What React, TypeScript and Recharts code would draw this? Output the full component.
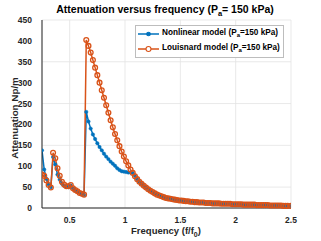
import React from 'react';
import { LineChart, Line, XAxis, YAxis, CartesianGrid, Legend } from 'recharts';

const freq = [
  0.25, 0.27, 0.29, 0.31, 0.33, 0.35, 0.37, 0.39, 0.41, 0.43,
  0.45, 0.47, 0.49, 0.51, 0.53, 0.55, 0.57, 0.59, 0.61, 0.63,
  0.65, 0.67, 0.69, 0.71, 0.73, 0.75, 0.77, 0.79, 0.81, 0.83,
  0.85, 0.87, 0.89, 0.91, 0.93, 0.95, 0.97, 0.99, 1.01, 1.03,
  1.05, 1.07, 1.09, 1.11, 1.13, 1.15, 1.17, 1.19, 1.21, 1.23,
  1.25, 1.27, 1.29, 1.31, 1.33, 1.35, 1.37, 1.39, 1.41, 1.43,
  1.45, 1.47, 1.49, 1.51, 1.53, 1.55, 1.57, 1.59, 1.61, 1.63,
  1.65, 1.67, 1.69, 1.71, 1.73, 1.75, 1.77, 1.79, 1.81, 1.83,
  1.85, 1.87, 1.89, 1.91, 1.93, 1.95, 1.97, 1.99, 2.01, 2.03,
  2.05, 2.07, 2.09, 2.11, 2.13, 2.15, 2.17, 2.19, 2.21, 2.23,
  2.25, 2.27, 2.29, 2.31, 2.33, 2.35, 2.37, 2.39, 2.41, 2.43,
  2.45, 2.47, 2.5,
];

const nonlinear = [
  138, 92, 70, 56, 50, 122, 104, 80, 68, 58,
  53, 51, 50, 54, 47, 42, 39, 36, 33, 31,
  230, 207, 190, 176, 165, 155, 146, 138, 130, 123,
  117, 111, 106, 101, 95, 91, 88, 87, 86, 85,
  85, 84, 77, 69, 63, 58, 53, 49, 45, 41,
  38, 35, 32, 30, 28, 26, 24, 23, 22, 21,
  20, 19, 18, 18, 17, 16, 16, 15, 15, 14,
  14, 13, 13, 13, 12, 12, 12, 11, 11, 11,
  11, 10, 10, 10, 10, 10, 9, 9, 9, 9,
  9, 8, 8, 8, 8, 8, 8, 7, 7, 7,
  7, 7, 7, 6, 6, 6, 6, 6, 6, 5,
  5, 5, 5,
];

const louisnard = [
  80, 77, 66, 55, 49, 132, 119, 95, 77, 63,
  56, 52, 52, 55, 47, 43, 40, 36, 34, 32,
  402, 388, 372, 354, 336, 318, 300, 282, 264, 246,
  228, 210, 193, 177, 162, 148, 135, 123, 112, 102,
  92, 84, 76, 69, 63, 58, 53, 49, 45, 41,
  38, 35, 32, 30, 28, 26, 24, 23, 22, 21,
  20, 19, 18, 18, 17, 16, 16, 15, 15, 14,
  14, 13, 13, 13, 12, 12, 12, 11, 11, 11,
  11, 10, 10, 10, 10, 10, 9, 9, 9, 9,
  9, 8, 8, 8, 8, 8, 8, 7, 7, 7,
  7, 7, 7, 6, 6, 6, 6, 6, 6, 5,
  5, 5, 5,
];

const xTicks = [0.5, 1, 1.5, 2, 2.5];
const yTicks = [0, 50, 100, 150, 200, 250, 300, 350, 400, 450];

const BLUE = '#0072BD';
const ORANGE = '#D95319';
const AXIS = '#262626';
const FONT = '"Liberation Sans", Arial, sans-serif';

const data = freq.map((f, i) => ({ f, nonlinear: nonlinear[i], louisnard: louisnard[i] }));

const Title = () => (
  <text x={165} y={13} textAnchor="middle" fontFamily={FONT} fontSize={10.5} fontWeight="bold" fill="#000">
    Attenuation versus frequency (P<tspan fontSize={7.5} dy={3}>a</tspan>
    <tspan dy={-3}>= 150 kPa)</tspan>
  </text>
);

const XTitle = () => (
  <text x={166} y={234} textAnchor="middle" fontFamily={FONT} fontSize={9.5} fontWeight="bold" fill={AXIS}>
    Frequency (f/f<tspan fontSize={7} dy={3}>0</tspan>
    <tspan dy={-3}>)</tspan>
  </text>
);

const YTitle = () => (
  <text
    x={14}
    y={118}
    transform="rotate(-90, 14, 118)"
    textAnchor="middle"
    dominantBaseline="central"
    fontFamily={FONT}
    fontSize={9.8}
    fontWeight="bold"
    fill={AXIS}
  >
    Attenuation Np/m
  </text>
);

const LegendBox = () => {
  const rows = [
    { name: 'Nonlinear model', color: BLUE, filled: true },
    { name: 'Louisnard model', color: ORANGE, filled: false },
  ];
  return (
    <div
      style={{
        border: '1px solid #bdbdbd',
        background: '#fff',
        padding: '1px 3px 1px 2px',
        fontFamily: FONT,
        fontSize: 8.2,
        fontWeight: 'bold',
        color: '#000',
        lineHeight: '12.5px',
        whiteSpace: 'nowrap',
      }}
    >
      {rows.map((r) => (
        <div key={r.name} style={{ display: 'flex', alignItems: 'center' }}>
          <svg width={21} height={10} style={{ marginRight: 3 }}>
            <line x1={0} y1={5} x2={21} y2={5} stroke={r.color} strokeWidth={1.5} />
            <circle
              cx={10.5}
              cy={5}
              r={r.filled ? 1.8 : 2.5}
              fill={r.filled ? r.color : '#fff'}
              stroke={r.color}
              strokeWidth={1.1}
            />
          </svg>
          <span>
            {r.name} (P<sub style={{ fontSize: 6, verticalAlign: '-2px' }}>a</sub>=150 kPa)
          </span>
        </div>
      ))}
    </div>
  );
};

export default function App() {
  return (
    <div style={{ position: 'absolute', left: 0, top: 0, width: 321, height: 241, background: '#fff' }}>
      <LineChart width={321} height={241} data={data} margin={{ top: 20, right: 30, left: 0, bottom: 0 }}>
        <CartesianGrid stroke="#e3e3e3" strokeWidth={0.8} />
        <XAxis
          dataKey="f"
          type="number"
          domain={[0.25, 2.5]}
          ticks={xTicks}
          height={33}
          stroke={AXIS}
          tickLine={false}
          tick={{ fontSize: 8.5, fontWeight: 'bold', fill: AXIS, fontFamily: FONT }}
          tickMargin={3}
          allowDataOverflow
        />
        <XAxis xAxisId="top" orientation="top" dataKey="f" type="number" domain={[0.25, 2.5]} height={0} tick={false} tickLine={false} stroke={AXIS} />
        <YAxis
          domain={[0, 450]}
          ticks={yTicks}
          width={42}
          stroke={AXIS}
          tickLine={false}
          tick={{ fontSize: 8.5, fontWeight: 'bold', fill: AXIS, fontFamily: FONT }}
          tickMargin={4}
        />
        <YAxis yAxisId="right" orientation="right" domain={[0, 450]} width={0} tick={false} tickLine={false} stroke={AXIS} />
        <Legend
          layout="horizontal"
          verticalAlign="middle"
          wrapperStyle={{ top: 25, left: 135, width: 'auto' }}
          content={() => <LegendBox />}
        />
        <Line
          dataKey="nonlinear"
          stroke={BLUE}
          strokeWidth={1.5}
          dot={{ r: 1.7, fill: BLUE, stroke: BLUE, strokeWidth: 0.5 }}
          isAnimationActive={false}
        />
        <Line
          dataKey="louisnard"
          stroke={ORANGE}
          strokeWidth={1.5}
          dot={{ r: 2.4, fill: 'none', stroke: ORANGE, strokeWidth: 1.3 }}
          isAnimationActive={false}
        />
        <Title />
        <XTitle />
        <YTitle />
      </LineChart>
    </div>
  );
}
